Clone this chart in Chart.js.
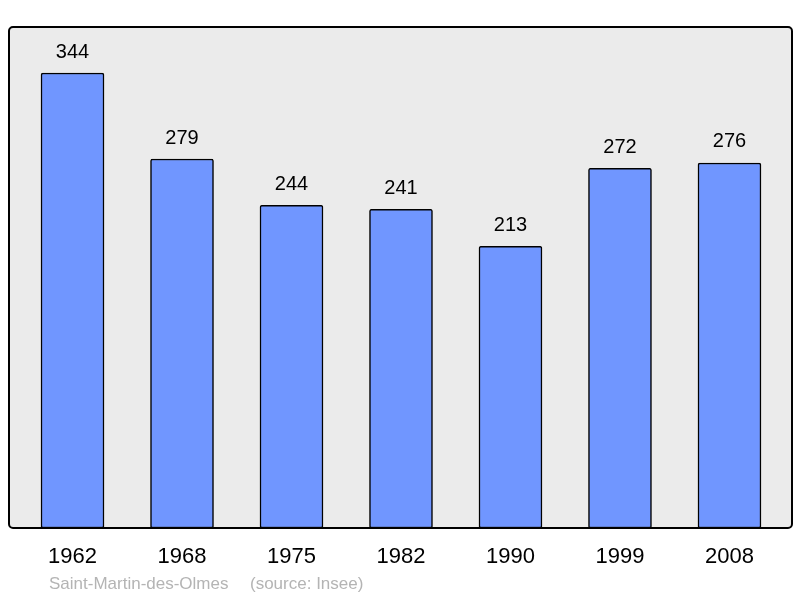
<!DOCTYPE html>
<html>
<head>
<meta charset="utf-8">
<script src="https://cdn.jsdelivr.net/npm/chart.js@4/dist/chart.umd.min.js"></script>
<style>
  html, body { margin: 0; padding: 0; background: #fff; }
  #wrap { width: 800px; height: 598px; }
</style>
</head>
<body>
<div id="wrap"><canvas id="c" width="800" height="598"></canvas></div>
<script>
const years = ['1962', '1968', '1975', '1982', '1990', '1999', '2008'];
const population = [344, 279, 244, 241, 213, 272, 276];
const caption = 'Saint-Martin-des-Olmes';
const source = '(source: Insee)';

const font = '"Liberation Sans", Arial, sans-serif';

// background frame, value labels, year labels, caption
const decor = {
  id: 'decor',
  beforeDraw(chart) {
    const { ctx, chartArea: a } = chart;
    ctx.save();
    ctx.beginPath();
    ctx.roundRect(a.left, a.top, a.right - a.left, a.bottom - a.top, 4);
    ctx.fillStyle = '#ebebeb';
    ctx.fill();
    ctx.restore();
  },
  afterDatasetsDraw(chart) {
    const { ctx, chartArea: a } = chart;
    const meta = chart.getDatasetMeta(0);
    ctx.save();
    ctx.beginPath();
    ctx.roundRect(a.left, a.top, a.right - a.left, a.bottom - a.top, 4);
    ctx.lineWidth = 2;
    ctx.strokeStyle = '#000';
    ctx.stroke();

    ctx.fillStyle = '#000';
    ctx.textAlign = 'center';
    ctx.textBaseline = 'middle';
    ctx.font = '20px ' + font;
    meta.data.forEach((bar, i) => {
      ctx.fillText(String(population[i]), bar.x, bar.y - 21);
    });
    ctx.font = '22px ' + font;
    meta.data.forEach((bar, i) => {
      ctx.fillText(years[i], bar.x, 557);
    });

    ctx.fillStyle = '#b4b4b4';
    ctx.textAlign = 'left';
    ctx.font = '17px ' + font;
    ctx.fillText(caption, 49, 584);
    ctx.fillText(source, 250, 584);
    ctx.restore();
  }
};

new Chart(document.getElementById('c').getContext('2d'), {
  type: 'bar',
  data: {
    datasets: [{
      data: population.map((v, i) => ({ x: i, y: v })),
      backgroundColor: '#7096ff',
      borderColor: '#000',
      borderWidth: 1.5,
      borderRadius: 2,
      borderSkipped: false,
      barThickness: 63
    }]
  },
  options: {
    responsive: false,
    animation: false,
    layout: { padding: { left: 9, top: 27, right: 8, bottom: 70 } },
    plugins: { legend: { display: false }, tooltip: { enabled: false } },
    scales: {
      x: { type: 'linear', min: -0.58, max: 6.571, offset: false, display: false },
      y: { min: 0, max: 378.8, display: false }
    }
  },
  plugins: [decor]
});
</script>
</body>
</html>
